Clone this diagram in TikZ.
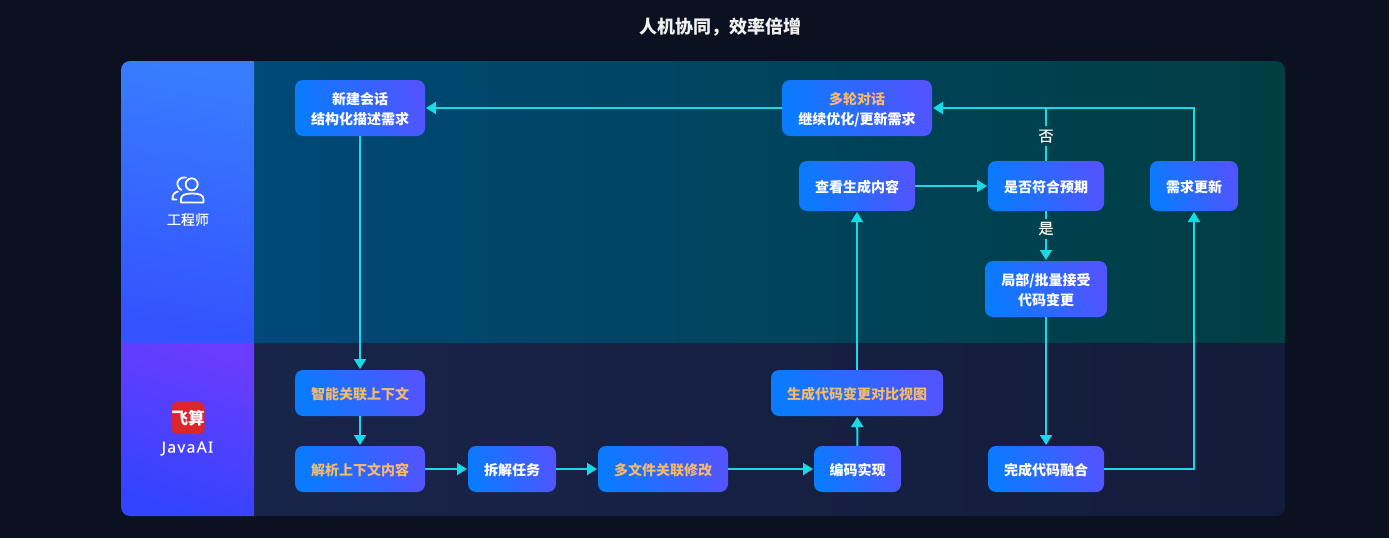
\documentclass[tikz,border=0pt]{standalone}
\usepackage{fontspec}
\usepackage{xcolor}
\setmainfont{Noto Sans CJK SC}
\newfontfamily\midfont[FakeBold=0.25]{Noto Sans CJK SC}
\newfontfamily\latinfont[LetterSpace=9,FakeBold=0.2]{Noto Sans}
\usetikzlibrary{positioning,arrows.meta}

\definecolor{pagebg}{HTML}{0B1120}
\definecolor{flowline}{HTML}{18DAE6}
\definecolor{boxleft}{HTML}{0A7BFF}
\definecolor{boxright}{HTML}{5055FF}
\definecolor{hilite}{HTML}{F5B96B}
\definecolor{labelbg}{HTML}{00424E}

\begin{document}
\begin{tikzpicture}[x=1pt,y=-1pt,->,>={Triangle[length=10pt,width=12pt]},line width=2pt]
  \tikzstyle{stepbox}=[rounded corners=8pt,inner sep=0pt,outer sep=0pt,align=center,text=white,text height=15pt,left color=boxleft,right color=boxright,shading angle=105,font=\fontsize{14}{20}\selectfont\bfseries]
  \tikzstyle{twoline}=[text height=35pt]
  \tikzstyle{hot}=[text=hilite]
  \tikzstyle{link}=[draw=flowline,shorten >=1pt]
  \tikzstyle{answer}=[fill=labelbg,text=white,inner sep=0pt,minimum width=18pt,minimum height=20pt,font=\fontsize{15}{15}\selectfont\midfont]
  \tikzstyle{person}=[draw=white,line width=1.8pt,-,line join=round,line cap=round]

  \useasboundingbox (0,0) rectangle (1389,538);
  \fill[pagebg] (0,0) rectangle (1389,538);

  \node[text=white!94!black,font=\fontsize{18}{18}\selectfont\bfseries] (title) at (720.5,27) {人机协同，效率倍增};

  \begin{scope}
    \clip[rounded corners=9pt] (121,61) rectangle (1285,516);
    \shade[shading=axis,left color={rgb,255:red,0;green,73;blue,120},middle color={rgb,255:red,0;green,72;blue,110},right color={rgb,255:red,0;green,62;blue,66},shading angle=90] (254,61) rectangle (1285,343);
    \shade[shading=axis,left color={rgb,255:red,25;green,36;blue,74},right color={rgb,255:red,19;green,28;blue,58},shading angle=90] (254,343) rectangle (1285,516);
    \shade[shading=axis,top color={rgb,255:red,56;green,124;blue,255},bottom color={rgb,255:red,52;green,82;blue,255},shading angle=-10] (121,61) rectangle (254,343);
    \shade[shading=axis,top color={rgb,255:red,106;green,60;blue,255},bottom color={rgb,255:red,50;green,68;blue,255},shading angle=-20] (121,343) rectangle (254,516);
  \end{scope}

  \node[stepbox,twoline,minimum width=130pt,minimum height=56pt] (newchat) at (360,108) {新建会话\\结构化描述需求};
  \node[stepbox,twoline,minimum width=150pt,minimum height=56pt] (multi) at (857,108) {\textcolor{hilite}{多轮对话}\\继续优化/更新需求};
  \node[stepbox,minimum width=116pt,minimum height=50pt] (view) at (857,186) {查看生成内容};
  \node[stepbox,minimum width=116pt,minimum height=50pt] (check) at (1046,186) {是否符合预期};
  \node[stepbox,minimum width=88pt,minimum height=50pt] (update) at (1194,186) {需求更新};
  \node[stepbox,twoline,minimum width=122pt,minimum height=56pt] (accept) at (1046,289) {局部/批量接受\\代码变更};

  \node[stepbox,hot,minimum width=130pt,minimum height=46pt] (context) at (360,393) {智能关联上下文};
  \node[stepbox,hot,minimum width=130pt,minimum height=46pt] (parse) at (360,469) {解析上下文内容};
  \node[stepbox,minimum width=88pt,minimum height=46pt] (split) at (512,469) {拆解任务};
  \node[stepbox,hot,minimum width=130pt,minimum height=46pt] (files) at (663,469) {多文件关联修改};
  \node[stepbox,hot,minimum width=172pt,minimum height=46pt] (diff) at (857,393) {生成代码变更对比视图};
  \node[stepbox,minimum width=87pt,minimum height=46pt] (code) at (857.5,469) {编码实现};
  \node[stepbox,minimum width=116pt,minimum height=46pt] (merge) at (1046,469) {完成代码融合};

  \coordinate (join) at (1046,108);

  \draw[link] (multi) -- (newchat);
  \draw[link] (newchat) -- (context);
  \draw[link] (context) -- (parse);
  \draw[link] (parse) -- (split);
  \draw[link] (split) -- (files);
  \draw[link] (files) -- (code);
  \draw[link] (code) -- (diff);
  \draw[link] (diff) -- (view);
  \draw[link] (view) -- (check);
  \draw[link] (check) -- node[answer,pos=0.35] (yes) {是} (accept);
  \draw[link,-] (check) -- node[answer,pos=0.47] (no) {否} (join);
  \draw[link] (update) |- (multi);
  \draw[link] (accept) -- (merge);
  \draw[link] (merge) -| (update);

  \draw[person] (191.7,184.3) circle (6pt);
  \draw[person] (181,202.5) -- (181,199) .. controls (181,195) and (185,193.5) .. (192,193.5) .. controls (199,193.5) and (203.5,195) .. (203.5,199) -- (203.5,202.5) -- cycle;
  \draw[person] (186,177.5) .. controls (180,176.5) and (176.5,181) .. (177.5,185) .. controls (178,188) and (180,189.5) .. (181.5,190);
  \draw[person] (178,191.5) .. controls (174,192.5) and (172.5,194.5) .. (172.5,199.5) -- (176.5,199.5);
  \node[text=white,font=\fontsize{14}{14}\selectfont\midfont] (engineer) at (188,219.5) {工程师};

  \node[fill={rgb,255:red,220;green,38;blue,44},rounded corners=5pt,minimum size=32pt,inner sep=0pt,text=white,font=\fontsize{16.5}{17}\selectfont\bfseries] (logo) at (188,418) {飞算};
  \node[text=white,font=\fontsize{15.5}{16}\selectfont\latinfont] (javaai) at (187.5,448.5) {JavaAI};
\end{tikzpicture}
\end{document}
